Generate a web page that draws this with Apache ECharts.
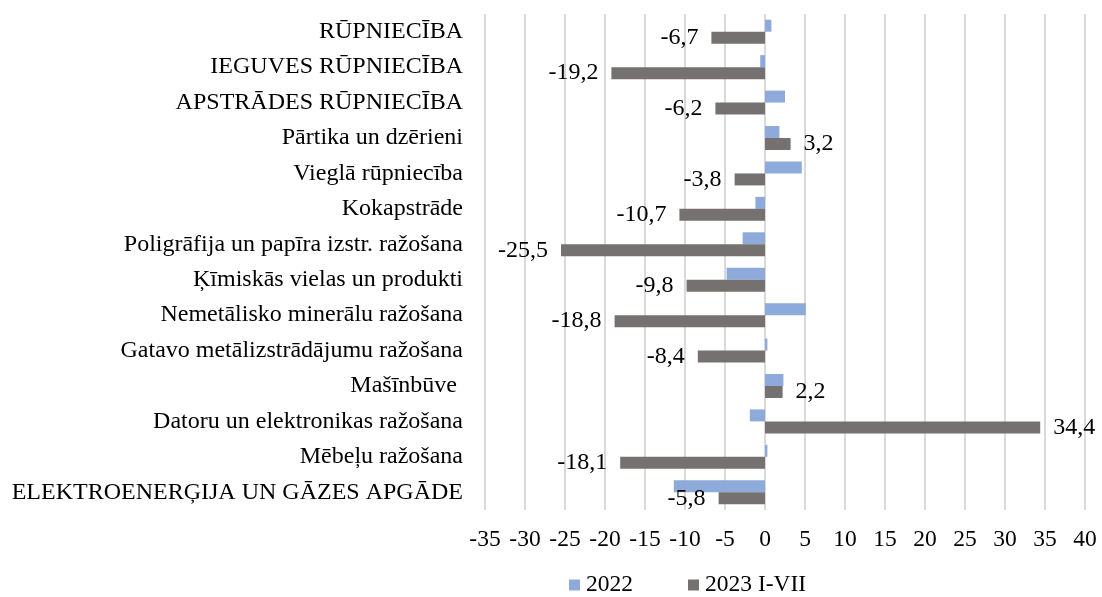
<!DOCTYPE html>
<html>
<head>
<meta charset="utf-8">
<title>Rūpniecības izlaide</title>
<script src="https://cdn.jsdelivr.net/npm/echarts@6/dist/echarts.min.js"></script>
<style>
  html, body { margin: 0; padding: 0; background: #fff; }
  #main { width: 1102px; height: 597px; }
</style>
</head>
<body>
<div id="main"></div>
<script>
// nozares (no augšas uz leju)
var categories = [
  'RŪPNIECĪBA',
  'IEGUVES RŪPNIECĪBA',
  'APSTRĀDES RŪPNIECĪBA',
  'Pārtika un dzērieni',
  'Vieglā rūpniecība',
  'Kokapstrāde',
  'Poligrāfija un papīra izstr. ražošana',
  'Ķīmiskās vielas un produkti',
  'Nemetālisko minerālu ražošana',
  'Gatavo metālizstrādājumu ražošana',
  'Mašīnbūve ',
  'Datoru un elektronikas ražošana',
  'Mēbeļu ražošana',
  'ELEKTROENERĢIJA UN GĀZES APGĀDE'
];
var values2022 = [0.8, -0.6, 2.5, 1.8, 4.6, -1.2, -2.8, -4.8, 5.1, 0.3, 2.3, -1.9, 0.3, -11.4];
var values2023 = [-6.7, -19.2, -6.2, 3.2, -3.8, -10.7, -25.5, -9.8, -18.8, -8.4, 2.2, 34.4, -18.1, -5.8];
var seriesNames = ['2022', '2023 I-VII'];

var font = 'Liberation Serif';
var fs = 23.5;
var myChart = echarts.init(document.getElementById('main'));

// uzraksti tikai 2023. gadam: negatīvajiem pa kreisi, pozitīvajiem pa labi
var data2023 = values2023.map(function (v) {
  return {
    value: v,
    label: { position: v < 0 ? 'left' : 'right' }
  };
});

var option = {
  animation: false,
  textStyle: { fontFamily: font },
  grid: { left: 485, right: 17, top: 14, bottom: 87, containLabel: false },
  legend: {
    top: 573,
    left: 569,
    padding: 0,
    itemWidth: 11,
    itemHeight: 11,
    itemGap: 55,
    icon: 'rect',
    textStyle: { fontFamily: font, fontSize: fs, color: '#000', padding: [0, 0, 0, 1] },
    data: seriesNames
  },
  xAxis: {
    type: 'value',
    min: -35,
    max: 40,
    interval: 5,
    axisLine: { show: false },
    axisTick: { show: false },
    axisLabel: { fontFamily: font, fontSize: fs, color: '#000', margin: 18 },
    splitLine: { lineStyle: { color: '#d9d9d9', width: 2 } }
  },
  yAxis: {
    type: 'category',
    inverse: true,
    data: categories,
    axisLine: { show: false, onZero: false },
    axisTick: { show: false },
    axisLabel: { fontFamily: font, fontSize: 24, color: '#000', margin: 22 }
  },
  series: [
    {
      name: seriesNames[0],
      type: 'bar',
      data: values2022,
      barWidth: 12,
      barGap: '0%',
      itemStyle: { color: '#8eaadb' }
    },
    {
      name: seriesNames[1],
      type: 'bar',
      data: data2023,
      barWidth: 12,
      barGap: '0%',
      itemStyle: { color: '#767171' },
      label: {
        show: true,
        distance: 13,
        fontFamily: font,
        fontSize: 24,
        color: '#000',
        formatter: function (p) { return String(p.value).replace('.', ','); }
      }
    }
  ]
};

myChart.setOption(option);
</script>
</body>
</html>
